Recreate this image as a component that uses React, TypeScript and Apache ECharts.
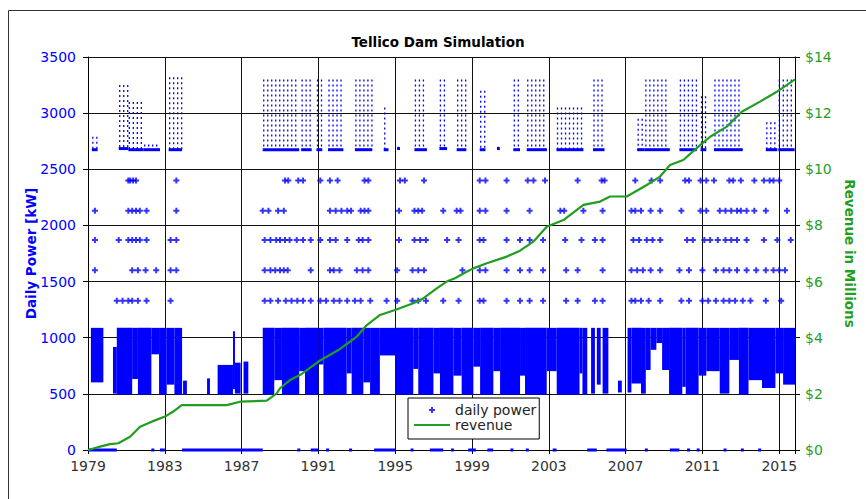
import React, { useEffect, useRef } from 'react';
import * as echarts from 'echarts';

// ---------- data (x values are years after January 1979) ----------
const BASE_YEAR = 1979;
const X_MAX = 36.82;
const YEAR_STEP = 4;

const revenueYears = [0, 0.63, 1.15, 1.58, 2.19, 2.71, 3.32, 4.01, 4.44, 4.88, 7.22, 7.92, 9.31, 9.83, 10.0, 10.52, 11.04, 12.0, 13.04, 14.0, 14.52, 15.21, 15.99, 16.94, 17.46, 18.16, 18.68, 19.11, 19.72, 20.07, 20.77, 21.81, 22.5, 23.19, 23.89, 24.76, 25.8, 26.67, 27.19, 28.06, 29.1, 29.79, 30.31, 31.0, 31.88, 32.4, 33.27, 34.05, 35.0, 35.87, 36.82];
const revenueMillions = [0, 0.12, 0.21, 0.24, 0.47, 0.83, 1.01, 1.19, 1.37, 1.6, 1.6, 1.72, 1.76, 2.02, 2.2, 2.49, 2.67, 3.15, 3.56, 4.04, 4.45, 4.81, 4.99, 5.23, 5.4, 5.76, 6.0, 6.12, 6.35, 6.47, 6.65, 6.89, 7.1, 7.42, 7.95, 8.19, 8.73, 8.85, 9.03, 9.03, 9.44, 9.74, 10.15, 10.33, 10.86, 11.16, 11.52, 12.05, 12.41, 12.76, 13.2];

// discrete daily power levels (kW) and the times at which they occur
const levelKW = [1330, 1600, 1870, 2130, 2400];
const times1330 = [1.5, 1.8, 2.1, 2.3, 2.6, 3.05, 4.3, 9.2, 9.5, 9.9, 10.3, 10.6, 10.9, 11.2, 11.6, 12.1, 12.4, 12.8, 13.1, 13.5, 13.9, 14.2, 14.7, 15.55, 16.1, 16.9, 17.2, 17.6, 18.5, 19.3, 20.4, 20.6, 21.8, 22.5, 23.0, 23.7, 24.9, 25.5, 26.4, 26.8, 28.3, 28.5, 28.8, 29.2, 29.8, 30.9, 31.3, 32.0, 32.3, 32.7, 33.1, 33.4, 33.7, 34.1, 34.5, 35.3, 36.1];
const times1600 = [0.36, 2.3, 2.6, 3.0, 3.55, 4.3, 4.6, 9.2, 9.5, 9.75, 10.0, 10.2, 10.4, 11.6, 12.6, 12.8, 13.1, 14.0, 14.3, 14.6, 16.1, 16.9, 17.2, 17.5, 19.5, 20.4, 20.7, 21.8, 22.5, 23.0, 23.7, 24.9, 25.5, 26.8, 28.3, 28.6, 28.9, 29.3, 29.8, 30.8, 31.3, 32.0, 32.7, 33.1, 33.4, 33.8, 34.3, 34.8, 35.3, 35.7, 36.0, 36.3];
const times1870 = [0.36, 1.6, 2.1, 2.3, 2.5, 2.7, 3.05, 4.3, 4.6, 9.2, 9.5, 9.8, 10.0, 10.26, 10.5, 10.87, 11.2, 11.6, 12.1, 12.6, 12.9, 13.5, 14.1, 14.3, 14.6, 16.2, 17.0, 17.3, 17.6, 18.7, 19.3, 20.4, 20.6, 21.8, 22.5, 23.0, 23.7, 24.85, 25.7, 26.4, 26.8, 28.4, 28.7, 29.1, 29.4, 29.8, 31.2, 31.5, 32.1, 32.4, 32.8, 33.2, 33.5, 33.8, 34.3, 35.2, 35.9, 36.6];
const times2130 = [0.36, 2.1, 2.3, 2.5, 2.7, 3.05, 4.6, 9.1, 9.4, 9.9, 10.2, 12.6, 12.9, 13.2, 13.5, 13.7, 14.2, 14.4, 14.6, 16.2, 17.0, 17.2, 17.4, 18.5, 19.2, 19.4, 20.4, 20.7, 21.8, 23.0, 24.6, 24.8, 25.8, 26.8, 28.3, 28.5, 28.8, 29.3, 29.8, 30.9, 31.9, 32.2, 32.9, 33.2, 33.5, 33.8, 34.0, 34.3, 34.7, 35.3, 36.4];
const times2400 = [2.1, 2.2, 2.35, 2.5, 4.6, 10.26, 10.43, 10.95, 11.2, 12.1, 12.6, 13.0, 14.4, 14.6, 16.25, 16.5, 17.5, 20.4, 20.7, 21.8, 22.9, 23.2, 23.8, 25.5, 26.75, 26.9, 28.5, 29.35, 29.8, 31.1, 31.3, 31.9, 32.2, 32.6, 33.4, 33.6, 34.0, 34.7, 35.2, 35.5, 35.7, 36.0];

// dense daily power band: [start, end, lowest kW, highest kW]
const denseBand = [
  [0.15, 0.8, 620, 1070], [1.3, 1.5, 520, 900], [1.5, 2.3, 510, 1070], [2.3, 2.6, 650, 1070],
  [2.6, 3.3, 510, 1070], [3.3, 3.7, 870, 1070], [3.7, 4.1, 510, 1070], [4.1, 4.5, 600, 1070],
  [4.5, 4.9, 510, 1070], [4.95, 5.15, 510, 600], [6.2, 6.35, 510, 620], [6.75, 7.55, 510, 740],
  [7.55, 7.65, 560, 1040], [7.65, 7.95, 520, 760], [8.1, 8.35, 520, 770],
  [9.1, 9.7, 510, 1070], [9.7, 10.1, 640, 1070], [10.1, 11.0, 510, 1070],
  [11.0, 11.3, 720, 1070], [11.3, 12.0, 510, 1070], [12.0, 12.26, 780, 1070], [12.26, 13.47, 510, 1070],
  [13.47, 13.73, 700, 1070], [13.73, 14.34, 510, 1070], [14.34, 14.69, 620, 1070], [14.69, 15.2, 510, 1070],
  [15.2, 15.99, 860, 1070], [15.99, 16.94, 510, 1070], [16.94, 17.2, 740, 1070], [17.2, 17.99, 510, 1070],
  [17.99, 18.33, 700, 1070], [18.33, 19.03, 510, 1070], [19.03, 19.46, 680, 1070], [19.46, 20.07, 510, 1070],
  [20.07, 20.42, 760, 1070], [20.42, 21.11, 510, 1070], [21.11, 21.46, 720, 1070], [21.46, 22.5, 510, 1070],
  [22.5, 22.76, 680, 1070], [22.76, 23.89, 510, 1070], [23.89, 24.41, 720, 1070], [24.41, 25.6, 510, 1070],
  [25.6, 25.75, 700, 1070], [25.75, 26.0, 510, 1070], [26.2, 26.4, 520, 1070], [26.5, 26.7, 600, 1070],
  [26.8, 27.1, 520, 1070], [27.6, 27.8, 530, 600],
  [28.1, 28.3, 530, 1070], [28.3, 28.8, 610, 1070], [28.8, 29.05, 520, 1070], [29.05, 29.3, 730, 1070],
  [29.3, 29.6, 910, 1070], [29.6, 29.9, 970, 1070], [29.9, 30.26, 730, 1070], [30.26, 30.95, 510, 1070],
  [30.95, 31.13, 580, 1070], [31.13, 31.8, 510, 1070], [31.8, 32.2, 680, 1070], [32.2, 32.9, 720, 1070],
  [32.9, 33.4, 520, 1070], [33.4, 33.9, 820, 1070], [33.9, 34.4, 510, 1070], [34.4, 35.1, 640, 1070],
  [35.1, 35.8, 570, 1070], [35.8, 36.2, 700, 1070], [36.2, 36.82, 600, 1070],
];

// high-output clusters: [start, end, lowest kW, highest kW]
const upperCluster = [
  [0.2, 0.5, 2670, 2790], [1.6, 2.1, 2680, 3250], [2.1, 2.9, 2670, 3100], [2.9, 3.75, 2670, 2720],
  [4.2, 4.9, 2670, 3320], [9.1, 11.0, 2670, 3300], [11.1, 11.65, 2670, 3300], [11.9, 12.2, 2670, 3300],
  [12.5, 13.3, 2670, 3300], [13.9, 14.8, 2670, 3300], [15.4, 15.65, 2670, 3050], [16.1, 16.25, 2680, 2700],
  [17.0, 17.65, 2670, 3300], [18.3, 18.7, 2680, 3300], [19.2, 19.7, 2670, 3300], [20.4, 20.7, 2670, 3200],
  [21.3, 21.45, 2680, 2700], [22.15, 22.5, 2670, 3300], [22.85, 23.9, 2670, 3300], [24.4, 25.8, 2670, 3050],
  [26.3, 26.9, 2670, 3300], [28.6, 29.0, 2670, 2950], [29.0, 30.3, 2670, 3300], [30.8, 31.7, 2670, 3300],
  [31.9, 32.2, 2670, 3150], [32.6, 34.1, 2670, 3300], [35.3, 35.9, 2670, 2920], [35.95, 36.8, 2670, 3300],
];

// periods with zero output: [start, end, kW]
const zeroRuns = [
  [0, 1.5, 0], [3.3, 3.35, 0], [3.75, 4.0, 0], [4.9, 9.1, 0], [10.9, 11.0, 0], [11.6, 12.0, 0],
  [12.4, 12.45, 0], [13.6, 13.65, 0], [14.9, 16.0, 0], [16.8, 16.85, 0], [17.8, 18.5, 0], [18.9, 19.0, 0],
  [19.8, 20.2, 0], [20.8, 21.1, 0], [22.0, 22.05, 0], [22.8, 22.85, 0], [24.2, 24.4, 0], [26.0, 26.5, 0],
  [27.0, 28.05, 0], [29.0, 29.05, 0], [30.3, 30.8, 0], [31.2, 31.25, 0], [31.7, 31.75, 0], [33.1, 33.15, 0],
  [34.0, 34.05, 0], [34.9, 34.95, 0],
];

// ---------- styling ----------
const BLUE = '#0000ff';
const GREEN = '#1f9e1f';
const FONT = '"DejaVu Sans", sans-serif';
const PLUS = 'path://M1,0H2V1H3V2H2V3H1V2H0V1H1Z';
const LINE_ICON = 'path://M0,0H36V2.2H0Z';

const levelTimes = [times1330, times1600, times1870, times2130, times2400];
const levelPoints = levelKW.flatMap((kw, i) => levelTimes[i].map((t) => [t, kw]));
const revenueData = revenueYears.map((t, i) => [t, revenueMillions[i]]);

export default function App() {
  const ref = useRef<HTMLDivElement>(null);
  useEffect(() => {
    const chart = echarts.init(ref.current as HTMLDivElement, null, { renderer: 'svg' });
    const option: any = {
      animation: false,
      backgroundColor: '#fff',
      title: {
        text: 'Tellico Dam Simulation',
        left: 433,
        top: 30,
        textAlign: 'center',
        textStyle: { fontFamily: FONT, fontSize: 13.5, fontWeight: 'bold', color: '#000' },
      },
      graphic: [
        {
          type: 'rect', silent: true, z: -10,
          shape: { x: 8.5, y: 10.5, width: 900, height: 600 },
          style: { fill: 'none', stroke: '#333', lineWidth: 1 },
        },
      ],
      legend: {
        orient: 'vertical',
        left: 408,
        top: 398,
        data: [{ name: 'daily power', icon: PLUS }, { name: 'revenue', icon: LINE_ICON }],
        itemWidth: 36,
        itemHeight: 6,
        itemGap: 1,
        backgroundColor: '#fff',
        borderColor: '#000',
        borderWidth: 1,
        borderRadius: 0,
        padding: [5, 3, 7, 6],
        selectedMode: false,
        textStyle: { fontFamily: FONT, fontSize: 14, color: '#222' },
      },
      grid: { left: 88, right: 71, top: 57, bottom: 49, containLabel: false, outerBoundsMode: 'none' },
      xAxis: {
        type: 'value',
        min: 0,
        max: X_MAX,
        interval: YEAR_STEP,
        axisLine: { show: true, lineStyle: { color: '#000', width: 1 } },
        axisTick: { show: true, length: 4, lineStyle: { color: '#000' } },
        splitLine: { show: true, lineStyle: { color: '#111', width: 1 } },
        axisLabel: {
          margin: 9,
          color: '#333',
          fontFamily: FONT,
          fontSize: 14,
          formatter: (v: number) => {
            const k = v / YEAR_STEP;
            return Math.abs(k - Math.round(k)) < 1e-6 ? String(BASE_YEAR + Math.round(v)) : '';
          },
        },
      },
      yAxis: [
        {
          type: 'value',
          min: 0,
          max: 3500,
          interval: 500,
          name: 'Daily Power [kW]',
          nameLocation: 'middle',
          nameGap: 50,
          nameRotate: 90,
          nameMoveOverlap: false,
          nameTextStyle: { fontFamily: FONT, fontSize: 13.5, fontWeight: 'bold', color: BLUE },
          axisLine: { show: true, lineStyle: { color: '#000', width: 1 } },
          axisTick: { show: true, length: 5, lineStyle: { color: '#000' } },
          splitLine: { show: true, lineStyle: { color: '#111', width: 1 } },
          axisLabel: {
            margin: 12, color: BLUE, fontFamily: FONT, fontSize: 14,
            formatter: (v: number) => String(v),
          },
        },
        {
          type: 'value',
          min: 0,
          max: 14,
          interval: 2,
          position: 'right',
          name: 'Revenue in Millions',
          nameLocation: 'middle',
          nameGap: 46,
          nameRotate: -90,
          nameTextStyle: { fontFamily: FONT, fontSize: 13.5, fontWeight: 'bold', color: GREEN },
          axisLine: { show: true, lineStyle: { color: '#000', width: 1 } },
          axisTick: { show: true, length: 5, lineStyle: { color: '#000' } },
          splitLine: { show: false },
          axisLabel: { margin: 10, color: GREEN, fontFamily: FONT, fontSize: 14, formatter: (v: number) => '$' + v },
        },
      ],
      series: [
        {
          type: 'custom',
          name: 'power band',
          xAxisIndex: 0,
          yAxisIndex: 0,
          clip: true,
          silent: true,
          z: 2,
          data: denseBand,
          encode: { x: [0, 1], y: [2, 3] },
          renderItem: (_p: any, api: any) => {
            const a = api.coord([api.value(0), api.value(3)]);
            const b = api.coord([api.value(1), api.value(2)]);
            return {
              type: 'rect',
              shape: { x: a[0], y: a[1] - 2, width: Math.max(b[0] - a[0], 2), height: b[1] - a[1] + 4 },
              style: { fill: BLUE },
            };
          },
        },
        {
          type: 'custom',
          name: 'power clusters',
          xAxisIndex: 0,
          yAxisIndex: 0,
          clip: true,
          silent: true,
          z: 2,
          data: upperCluster,
          encode: { x: [0, 1], y: [2, 3] },
          renderItem: (_p: any, api: any) => {
            const a = api.coord([api.value(0), api.value(3)]);
            const b = api.coord([api.value(1), api.value(2)]);
            const x1 = Math.max(b[0], a[0] + 2);
            const children: any[] = [];
            for (let x = a[0] + 1; x <= x1; x += 4) {
              children.push({
                type: 'line',
                shape: { x1: x, y1: a[1], x2: x, y2: b[1] },
                style: { stroke: BLUE, lineWidth: 1.3, lineDash: [2, 3] },
              });
            }
            children.push({
              type: 'rect',
              shape: { x: a[0], y: b[1] - 2, width: x1 - a[0], height: 3 },
              style: { fill: BLUE },
            });
            return { type: 'group', children };
          },
        },
        {
          type: 'custom',
          name: 'zero output',
          xAxisIndex: 0,
          yAxisIndex: 0,
          clip: false,
          silent: true,
          z: 2,
          data: zeroRuns,
          encode: { x: [0, 1], y: 2 },
          renderItem: (_p: any, api: any) => {
            const a = api.coord([api.value(0), api.value(2)]);
            const b = api.coord([api.value(1), api.value(2)]);
            return {
              type: 'rect',
              shape: { x: a[0], y: a[1] - 1.5, width: Math.max(b[0] - a[0], 3), height: 3 },
              style: { fill: BLUE },
            };
          },
        },
        {
          type: 'scatter',
          name: 'daily power',
          xAxisIndex: 0,
          yAxisIndex: 0,
          symbol: PLUS,
          symbolSize: 6,
          itemStyle: { color: BLUE },
          data: levelPoints,
          z: 3,
        },
        {
          type: 'line',
          name: 'revenue',
          xAxisIndex: 0,
          yAxisIndex: 1,
          symbol: 'none',
          showSymbol: false,
          lineStyle: { color: GREEN, width: 2.2 },
          itemStyle: { color: GREEN },
          data: revenueData,
          z: 5,
        },
      ],
    };
    chart.setOption(option);
    return () => chart.dispose();
  }, []);
  return (
    <div
      ref={ref}
      style={{ position: 'absolute', left: 0, top: 0, width: 866, height: 499, background: '#fff' }}
    />
  );
}
